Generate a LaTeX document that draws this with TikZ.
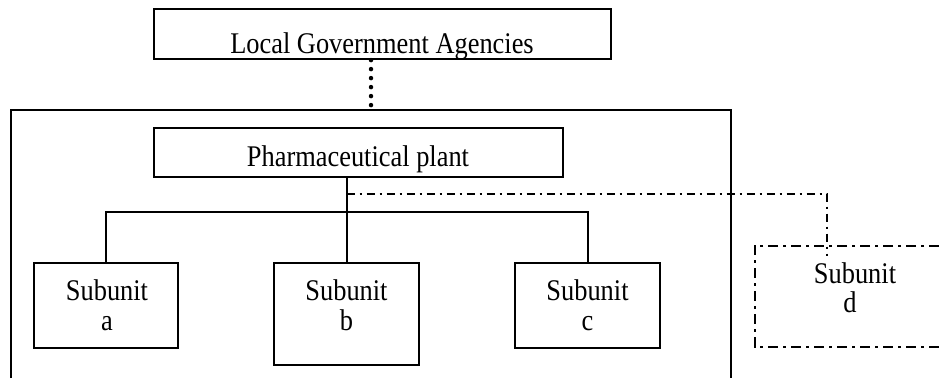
\documentclass[tikz,border=0pt]{standalone}
\usepackage{fontspec}
\setmainfont[FakeStretch=0.88]{Liberation Serif}
\begin{document}
\begin{tikzpicture}[x=1pt,y=-1pt,
  box/.style={draw,line width=2.2pt,rectangle,inner sep=0pt},
  subbox/.style={draw,line width=2.6pt,rectangle,inner sep=0pt,minimum width=145pt},
  lbl/.style={inner sep=0pt,anchor=base,font=\fontsize{30}{30}\selectfont},
  frameline/.style={line width=1.6pt},
  link/.style={line width=2pt},
  dotline/.style={line width=4.5pt,line cap=round,dash pattern=on 0pt off 9pt},
  dashdot/.style={line width=1.5pt,dash pattern=on 8pt off 5pt on 2pt off 5pt},
  dashdotbox/.style={line width=2.5pt,dash pattern=on 10pt off 5pt on 3pt off 5pt}]
\useasboundingbox (0,0) rectangle (939,378);

% boxes
\node[box,minimum width=457pt,minimum height=50pt] (lga) at (382.5,34) {};
\node[box,minimum width=409pt,minimum height=49pt] (plant) at (358.5,152.5) {};
\node[subbox,minimum width=144pt,minimum height=85pt] (a) at (106,305.5) {};
\node[subbox,minimum height=102pt] (b) at (346.5,314) {};
\node[subbox,minimum height=85pt] (c) at (587.5,305.5) {};
\node[inner sep=0pt,minimum width=184pt,minimum height=101pt] (d) at (847,296.5) {};

% labels
\node[lbl] (tlga) at (382,53) {Local Government Agencies};
\node[lbl] (tplant) at (358,166) {Pharmaceutical plant};
\node[lbl] (ta1) at (107,300) {Subunit};
\node[lbl] (ta2) at (107,330) {a};
\node[lbl] (tb1) at (346.5,300) {Subunit};
\node[lbl] (tb2) at (346.5,330) {b};
\node[lbl] (tc1) at (587.5,300) {Subunit};
\node[lbl] (tc2) at (587.5,330) {c};
\node[lbl] (td1) at (855,283) {Subunit};
\node[lbl] (td2) at (850,312) {d};

% enterprise frame, open at the bottom
\coordinate (fbl) at (11,378);
\coordinate (ftl) at (11,110);
\coordinate (ftr) at (731,110);
\coordinate (fbr) at (731,378);
\draw[frameline] (fbl) -- (ftl) -- (ftr) -- (fbr);

% subunit d outline, open to the right
\draw[dashdotbox] (d.north east) -- (d.north west) -- (d.south west) -- (d.south east);

% connectors
\coordinate (dotx) at (371,110);
\draw[dotline] (lga.south -| dotx) -- (dotx);
\draw[link] (plant.south -| b.north) -- (b.north);
\coordinate (bus) at (0,212);
\draw[link] (a.north) -- (a.north |- bus) -- (c.north |- bus) -- (c.north);
\coordinate (ddstart) at (346.5,194);
\coordinate (ddend) at (827,256);
\draw[dashdot] (ddstart) -| (ddend);
\end{tikzpicture}
\end{document}
